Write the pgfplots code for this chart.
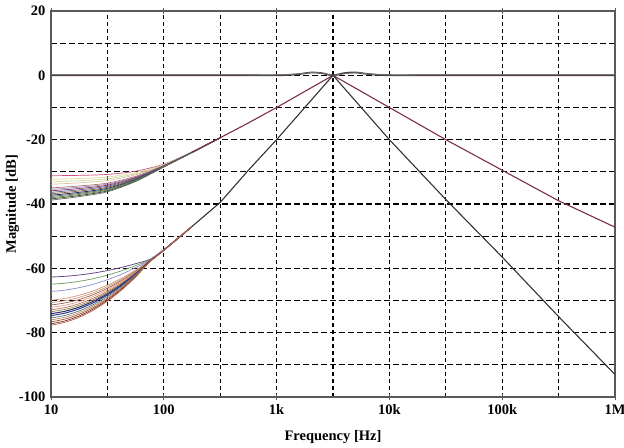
\documentclass[border=0pt]{standalone}
\usepackage{fontspec}
\setmainfont{Liberation Serif}
\usepackage{pgfplots}
\pgfplotsset{compat=1.18}

% colours of the individual runs
\definecolor{ra}{HTML}{CC4F86}\definecolor{rb}{HTML}{E2D898}\definecolor{rc}{HTML}{C6DCA8}
\definecolor{rd}{HTML}{DCC09A}\definecolor{re}{HTML}{B07070}\definecolor{rf}{HTML}{9A86C0}
\definecolor{rg}{HTML}{8A3550}\definecolor{rh}{HTML}{5A5A9A}\definecolor{ri}{HTML}{8A5A3A}
\definecolor{rj}{HTML}{2A2A60}\definecolor{rk}{HTML}{3D6F6A}\definecolor{rl}{HTML}{7A7A3A}
\definecolor{rm}{HTML}{3A5A3A}\definecolor{rn}{HTML}{6A6A6A}
\definecolor{ba}{HTML}{6A4A8A}\definecolor{bb}{HTML}{6A9A5A}\definecolor{bc}{HTML}{8A8AD0}
\definecolor{bd}{HTML}{D9957A}\definecolor{be}{HTML}{C8A07A}\definecolor{bf}{HTML}{A0604A}
\definecolor{bg}{HTML}{E0A090}\definecolor{bh}{HTML}{C07050}\definecolor{bi}{HTML}{8A8A4A}
\definecolor{bj}{HTML}{2A2A6A}\definecolor{bk}{HTML}{3A3A8A}\definecolor{bl}{HTML}{4A7A7A}
\definecolor{bm}{HTML}{D08A6A}\definecolor{bn}{HTML}{9A5030}\definecolor{bo}{HTML}{7A2A2A}
\definecolor{bp}{HTML}{B06A4A}
\definecolor{redmain}{HTML}{7D2E45}
\definecolor{blkmain}{HTML}{333333}
\definecolor{flat}{HTML}{4A3A3A}

\newcommand{\lbl}{\fontsize{14.5bp}{17bp}\selectfont\bfseries}

\begin{document}
\begin{tikzpicture}
\begin{axis}[
  scale only axis, width=564bp, height=386bp,
  xmode=log, xmin=10, xmax=1e6, ymin=-100, ymax=20,
  xtick={10,100,1000,10000,100000,1000000},
  xticklabels={10,100,1k,10k,100k,1M},
  minor xtick={31.62,316.2,3162,31623,316228},
  ytick={-100,-80,-60,-40,-20,0,20},
  yticklabels={-100,-80,-60,-40,-20,0,20},
  minor ytick={-90,-70,-50,-30,-10,10},
  grid=both,
  major x grid style={black, line width=1.3bp, dash pattern=on 4bp off 3bp},
  minor x grid style={black, line width=1.3bp, dash pattern=on 4bp off 3bp},
  major y grid style={black, line width=1.3bp, dash pattern=on 6bp off 3bp},
  minor y grid style={black, line width=1.3bp, dash pattern=on 6bp off 3bp},
  axis line style={draw=black!65, line width=1.2bp},
  xtick style={draw=black!65, line width=1bp},
  ytick style={draw=none},
  major tick length=6bp, minor tick length=0pt, tick align=center,
  tick label style={font=\lbl},
  label style={font=\lbl},
  xlabel={Frequency [Hz]}, ylabel={Magnitude [dB]},
  xticklabel style={yshift=-1bp},
  yticklabel style={xshift=1bp},
  xlabel style={yshift=-9bp},
  ylabel style={yshift=-7bp},
]

% flat responses
\addplot[flat, line width=1.7bp, smooth] coordinates {(10,0) (500,0) (1000,0) (1500,0.3) (2000,0.85) (2500,0.7) (3162,0) (4000,0.7) (5000,0.9) (6500,0.4) (10000,0) (20000,0) (1000000,0)};
\addplot[black!55, line width=0.8bp, smooth] coordinates {(10,0.15) (500,0.15) (1000,0.15) (1500,0.4) (2100,0.9) (2600,0.6) (3162,0) (4200,0.6) (5300,0.8) (7000,0.35) (10000,0.15) (20000,0.15) (1000000,0.15)};

% first-order band-pass runs, low-frequency part
\addplot[ra, line width=0.7bp, smooth] coordinates {(10,-31.20) (17.78,-31.10) (31.62,-30.80) (56.23,-29.80) (100,-27.60) (177.8,-23.80) (316.2,-19.4)};
\addplot[rb, line width=0.7bp, smooth] coordinates {(10,-32.34) (17.78,-32.09) (31.62,-31.61) (56.23,-30.28) (100,-27.74) (177.8,-23.83) (316.2,-19.4)};
\addplot[rc, line width=0.7bp, smooth] coordinates {(10,-33.10) (17.78,-32.75) (31.62,-32.15) (56.23,-30.60) (100,-27.83) (177.8,-23.85) (316.2,-19.4)};
\addplot[rd, line width=0.7bp, smooth] coordinates {(10,-33.86) (17.78,-33.41) (31.62,-32.69) (56.23,-30.92) (100,-27.92) (177.8,-23.87) (316.2,-19.4)};
\addplot[re, line width=0.7bp, smooth] coordinates {(10,-35.00) (17.78,-34.40) (31.62,-33.50) (56.23,-31.40) (100,-28.05) (177.8,-23.90) (316.2,-19.4)};
\addplot[rf, line width=0.7bp, smooth] coordinates {(10,-35.46) (17.78,-34.80) (31.62,-33.82) (56.23,-31.59) (100,-28.10) (177.8,-23.91) (316.2,-19.4)};
\addplot[rg, line width=0.7bp, smooth] coordinates {(10,-35.91) (17.78,-35.19) (31.62,-34.15) (56.23,-31.78) (100,-28.16) (177.8,-23.92) (316.2,-19.4)};
\addplot[rh, line width=0.7bp, smooth] coordinates {(10,-36.37) (17.78,-35.59) (31.62,-34.47) (56.23,-31.98) (100,-28.21) (177.8,-23.94) (316.2,-19.4)};
\addplot[ri, line width=0.7bp, smooth] coordinates {(10,-36.82) (17.78,-35.98) (31.62,-34.80) (56.23,-32.17) (100,-28.27) (177.8,-23.95) (316.2,-19.4)};
\addplot[rj, line width=0.8bp, smooth] coordinates {(10,-37.28) (17.78,-36.38) (31.62,-35.12) (56.23,-32.36) (100,-28.32) (177.8,-23.96) (316.2,-19.4)};
\addplot[rk, line width=0.7bp, smooth] coordinates {(10,-37.66) (17.78,-36.71) (31.62,-35.39) (56.23,-32.52) (100,-28.37) (177.8,-23.97) (316.2,-19.4)};
\addplot[rl, line width=0.7bp, smooth] coordinates {(10,-38.04) (17.78,-37.04) (31.62,-35.66) (56.23,-32.68) (100,-28.41) (177.8,-23.98) (316.2,-19.4)};
\addplot[rm, line width=0.8bp, smooth] coordinates {(10,-38.42) (17.78,-37.37) (31.62,-35.93) (56.23,-32.84) (100,-28.46) (177.8,-23.99) (316.2,-19.4)};
\addplot[rn, line width=0.7bp, smooth] coordinates {(10,-38.80) (17.78,-37.70) (31.62,-36.20) (56.23,-33.00) (100,-28.50) (177.8,-24.00) (316.2,-19.4)};

% first-order band-pass, common part
\addplot[redmain, line width=1.1bp] coordinates {(177.8,-23.95) (316.2,-19.4) (562.3,-14.8) (1000,-10) (1778,-5) (3162,0) (5623,-5) (10000,-10) (31623,-20) (100000,-29.5) (316228,-39) (1000000,-47.2)};

% second-order band-pass runs, low-frequency part (eighth-decade steps)
\addplot[ba, line width=0.8bp, smooth] coordinates {(10,-62.70) (13.34,-62.48) (17.78,-62.07) (23.71,-61.48) (31.62,-60.69) (42.17,-59.72) (56.23,-58.55) (74.99,-57.20) (100,-54.20) (177.8,-47)};
\addplot[bb, line width=0.7bp, smooth] coordinates {(10,-64.95) (13.34,-64.62) (17.78,-64.04) (23.71,-63.21) (31.62,-62.12) (42.17,-60.77) (56.23,-59.17) (74.99,-57.32) (100,-54.23) (177.8,-47)};
\addplot[bc, line width=0.7bp, smooth] coordinates {(10,-67.20) (13.34,-66.77) (17.78,-66.01) (23.71,-64.94) (31.62,-63.54) (42.17,-61.83) (56.23,-59.79) (74.99,-57.44) (100,-54.26) (177.8,-47)};
\addplot[bd, line width=0.7bp, smooth] coordinates {(10,-69.90) (13.34,-69.34) (17.78,-68.37) (23.71,-67.01) (31.62,-65.25) (42.17,-63.10) (56.23,-60.54) (74.99,-57.58) (100,-54.30) (177.8,-47)};
\addplot[be, line width=0.7bp, smooth] coordinates {(10,-70.65) (13.34,-70.05) (17.78,-69.03) (23.71,-67.59) (31.62,-65.73) (42.17,-63.45) (56.23,-60.75) (74.99,-57.62) (100,-54.31) (177.8,-47)};
\addplot[bf, line width=0.7bp, smooth] coordinates {(10,-71.40) (13.34,-70.76) (17.78,-69.69) (23.71,-68.17) (31.62,-66.20) (42.17,-63.80) (56.23,-60.95) (74.99,-57.66) (100,-54.32) (177.8,-47)};
\addplot[bg, line width=0.7bp, smooth] coordinates {(10,-72.15) (13.34,-71.48) (17.78,-70.34) (23.71,-68.74) (31.62,-66.68) (42.17,-64.15) (56.23,-61.16) (74.99,-57.70) (100,-54.33) (177.8,-47)};
\addplot[bh, line width=0.7bp, smooth] coordinates {(10,-72.90) (13.34,-72.19) (17.78,-71.00) (23.71,-69.32) (31.62,-67.15) (42.17,-64.50) (56.23,-61.37) (74.99,-57.74) (100,-54.34) (177.8,-47)};
\addplot[bi, line width=0.7bp, smooth] coordinates {(10,-73.50) (13.34,-72.76) (17.78,-71.52) (23.71,-69.78) (31.62,-67.53) (42.17,-64.79) (56.23,-61.53) (74.99,-57.78) (100,-54.34) (177.8,-47)};
\addplot[bj, line width=1.0bp, smooth] coordinates {(10,-74.10) (13.34,-73.34) (17.78,-72.05) (23.71,-70.24) (31.62,-67.91) (42.17,-65.07) (56.23,-61.70) (74.99,-57.81) (100,-54.35) (177.8,-47)};
\addplot[bk, line width=1.0bp, smooth] coordinates {(10,-74.70) (13.34,-73.91) (17.78,-72.57) (23.71,-70.70) (31.62,-68.30) (42.17,-65.35) (56.23,-61.86) (74.99,-57.84) (100,-54.36) (177.8,-47)};
\addplot[bl, line width=0.7bp, smooth] coordinates {(10,-75.45) (13.34,-74.62) (17.78,-73.23) (23.71,-71.28) (31.62,-68.77) (42.17,-65.70) (56.23,-62.07) (74.99,-57.88) (100,-54.37) (177.8,-47)};
\addplot[bm, line width=0.7bp, smooth] coordinates {(10,-76.05) (13.34,-75.19) (17.78,-73.76) (23.71,-71.74) (31.62,-69.15) (42.17,-65.98) (56.23,-62.24) (74.99,-57.91) (100,-54.38) (177.8,-47)};
\addplot[bn, line width=0.7bp, smooth] coordinates {(10,-76.65) (13.34,-75.76) (17.78,-74.28) (23.71,-72.20) (31.62,-69.53) (42.17,-66.26) (56.23,-62.40) (74.99,-57.94) (100,-54.39) (177.8,-47)};
\addplot[bo, line width=0.7bp, smooth] coordinates {(10,-77.25) (13.34,-76.33) (17.78,-74.81) (23.71,-72.66) (31.62,-69.91) (42.17,-66.55) (56.23,-62.57) (74.99,-57.98) (100,-54.39) (177.8,-47)};
\addplot[bp, line width=0.7bp, smooth] coordinates {(10,-77.70) (13.34,-76.76) (17.78,-75.20) (23.71,-73.01) (31.62,-70.20) (42.17,-66.76) (56.23,-62.69) (74.99,-58.00) (100,-54.40) (177.8,-47)};

% second-order band-pass, common part
\addplot[blkmain, line width=1.1bp] coordinates {(177.8,-47) (316.2,-39.5) (562.3,-29.5) (1000,-20) (1778,-10) (3162,0) (5623,-10) (10000,-20) (31623,-38.6) (100000,-56.5) (316228,-75) (1000000,-93)};

\end{axis}
\pgfresetboundingbox
\path ([shift={(-51bp,-51bp)}]current axis.south west) rectangle ([shift={(9bp,11bp)}]current axis.north east);
\end{tikzpicture}
\end{document}
